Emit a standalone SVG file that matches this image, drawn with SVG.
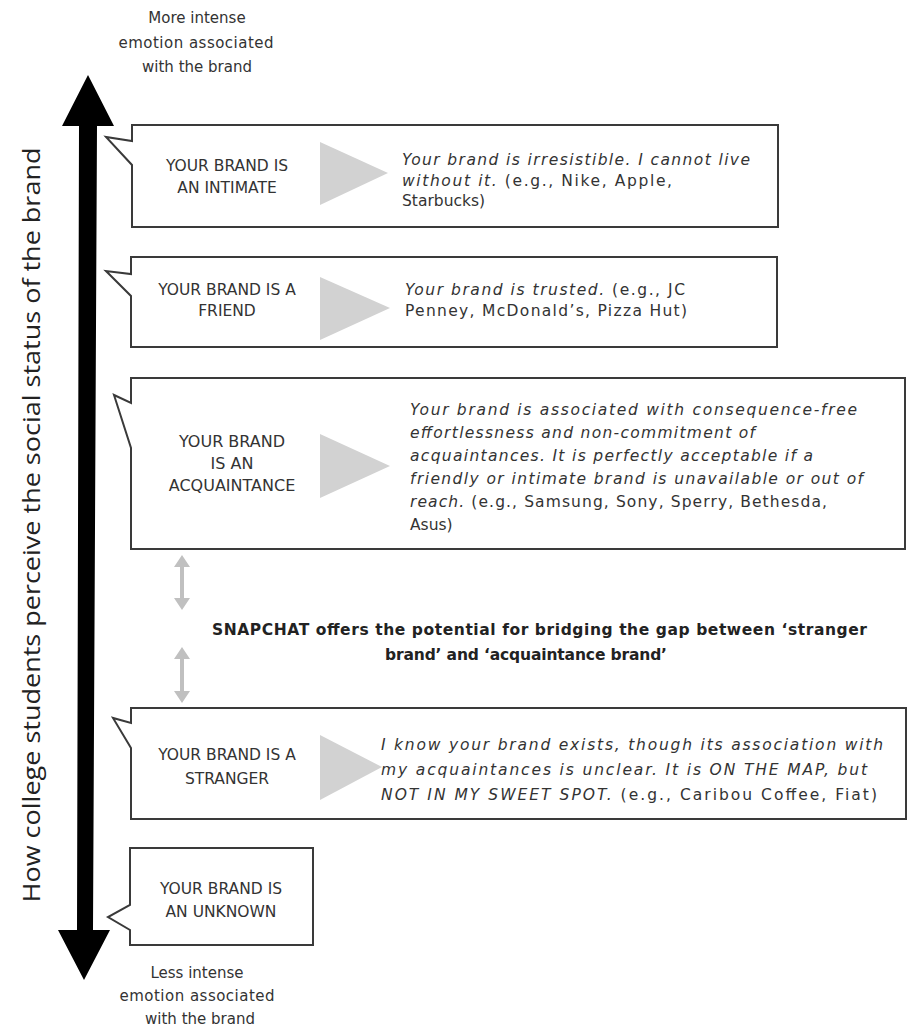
<svg xmlns="http://www.w3.org/2000/svg" width="912" height="1026" viewBox="0 0 912 1026">
<style>
.box{fill:#fff;stroke:#3a3a3a;stroke-width:2;stroke-linejoin:miter}
.tri{fill:#d2d2d2}
.lbl{font-family:"DejaVu Sans",sans-serif;font-size:15.5px;fill:#333;text-anchor:middle}
.desc{font-family:"DejaVu Sans",sans-serif;font-size:15.5px;fill:#333}
.it{font-style:italic}
.sm{font-family:"DejaVu Sans",sans-serif;font-size:15px;fill:#333;text-anchor:middle}
.snap{font-family:"DejaVu Sans",sans-serif;font-size:15.5px;font-weight:bold;fill:#222}
.axis{font-family:"Open Sans","DejaVu Sans",sans-serif;font-size:23px;fill:#222;text-anchor:middle}
</style>
<rect width="912" height="1026" fill="#fff"/>
<g id="connectors">
<path d="M88,75 L114,126 L97,126 L93,930 L110,930 L84,980 L58,930 L77,930 L79,126 L62,126 Z" fill="#000"/>
<path d="M182,555 L190,567 L184,567 L184,598 L190,598 L182,610 L174,598 L180,598 L180,567 L174,567 Z" fill="#c0c0c0"/>
<path d="M182,647 L190,659 L184,659 L184,691 L190,691 L182,703 L174,691 L180,691 L180,659 L174,659 Z" fill="#c0c0c0"/>
</g>
<g id="top-label">
<text class="sm" x="197" y="23">More intense</text>
<text class="sm" x="196" y="48" textLength="155">emotion associated</text>
<text class="sm" x="197" y="72">with the brand</text>
</g>
<g id="axis-label">
<text class="axis" transform="translate(40,525) rotate(-90)" textLength="755" lengthAdjust="spacingAndGlyphs">How college students perceive the social status of the brand</text>
</g>
<g id="intimate">
<path class="box" d="M132,125 H778 V227 H132 V165 L106,137 L132,141 Z"/>
<path class="tri" d="M320,142 L388,173 L320,205 Z"/>
<text class="lbl" x="227" y="171">YOUR BRAND IS</text>
<text class="lbl" x="227" y="193">AN INTIMATE</text>
<text class="desc" x="402" y="165" textLength="348"><tspan class="it">Your brand is irresistible. I cannot live</tspan></text>
<text class="desc" x="402" y="186" textLength="270"><tspan class="it">without it.</tspan> (e.g., Nike, Apple,</text>
<text class="desc" x="402" y="206">Starbucks)</text>
</g>
<g id="friend">
<path class="box" d="M131,257 H777 V347 H131 V296 L106,271 L131,274 Z"/>
<path class="tri" d="M320,277 L390,308 L320,340 Z"/>
<text class="lbl" x="227" y="295">YOUR BRAND IS A</text>
<text class="lbl" x="227" y="316">FRIEND</text>
<text class="desc" x="405" y="295" textLength="280"><tspan class="it">Your brand is trusted.</tspan> (e.g., JC</text>
<text class="desc" x="405" y="316" textLength="282">Penney, McDonald’s, Pizza Hut)</text>
</g>
<g id="acquaintance">
<path class="box" d="M131,378 H905 V549 H131 V448 L114,395 L131,403 Z"/>
<path class="tri" d="M320,434 L390,466 L320,498 Z"/>
<text class="lbl" x="232" y="447" style="font-size:16px">YOUR BRAND</text>
<text class="lbl" x="232" y="469" style="font-size:16px">IS AN</text>
<text class="lbl" x="232" y="491" style="font-size:16px">ACQUAINTANCE</text>
<text class="desc it" x="410" y="415" textLength="447">Your brand is associated with consequence-free</text>
<text class="desc it" x="410" y="438" textLength="345">effortlessness and non-commitment of</text>
<text class="desc it" x="410" y="461" textLength="403">acquaintances. It is perfectly acceptable if a</text>
<text class="desc it" x="410" y="484" textLength="453">friendly or intimate brand is unavailable or out of</text>
<text class="desc" x="410" y="507" textLength="417"><tspan class="it">reach.</tspan> (e.g., Samsung, Sony, Sperry, Bethesda,</text>
<text class="desc" x="410" y="530">Asus)</text>
</g>
<g id="snapchat">
<text class="snap" x="212" y="635" textLength="655">SNAPCHAT offers the potential for bridging the gap between ‘stranger</text>
<text class="snap" x="385" y="660" textLength="282">brand’ and ‘acquaintance brand’</text>
</g>
<g id="stranger">
<path class="box" d="M131,708 H906 V819 H131 V748 L113,718 L131,723 Z"/>
<path class="tri" d="M320,735 L382,767 L320,800 Z"/>
<text class="lbl" x="227" y="760">YOUR BRAND IS A</text>
<text class="lbl" x="227" y="784">STRANGER</text>
<text class="desc it" x="381" y="750" textLength="502">I know your brand exists, though its association with</text>
<text class="desc it" x="381" y="775" textLength="486">my acquaintances is unclear. It is ON THE MAP, but</text>
<text class="desc" x="381" y="800" textLength="496"><tspan class="it">NOT IN MY SWEET SPOT.</tspan> (e.g., Caribou Coffee, Fiat)</text>
</g>
<g id="unknown">
<path class="box" d="M130,848 H313 V945 H130 V930 L108,917 L130,905 Z"/>
<text class="lbl" x="221" y="894">YOUR BRAND IS</text>
<text class="lbl" x="221" y="917">AN UNKNOWN</text>
</g>
<g id="bottom-label">
<text class="sm" x="197" y="978">Less intense</text>
<text class="sm" x="197" y="1001" textLength="155">emotion associated</text>
<text class="sm" x="200" y="1024">with the brand</text>
</g>
</svg>
